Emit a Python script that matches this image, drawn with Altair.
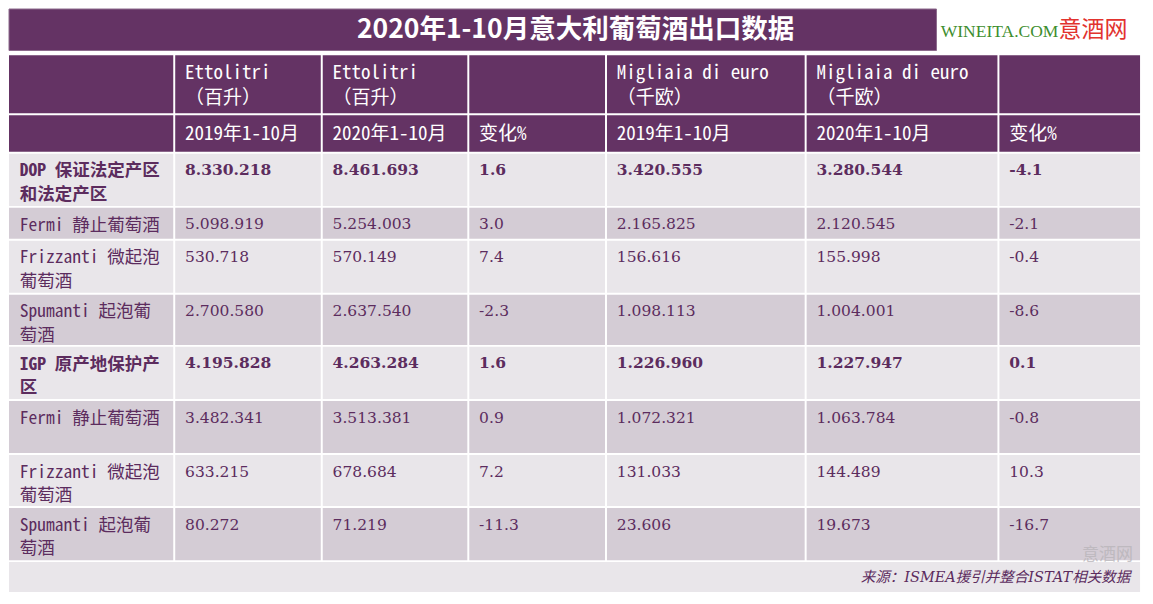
import altair as alt
import pandas as pd

# ---------------- data ----------------
title_text = "2020年1-10月意大利葡萄酒出口数据"
unit_headers = ["", "Ettolitri\n（百升）", "Ettolitri\n（百升）", "",
                "Migliaia di euro\n（千欧）", "Migliaia di euro\n（千欧）", ""]
period_headers = ["", "2019年1-10月", "2020年1-10月", "变化%",
                  "2019年1-10月", "2020年1-10月", "变化%"]
categories = ["DOP 保证法定产区\n和法定产区", "Fermi 静止葡萄酒", "Frizzanti 微起泡\n葡萄酒",
              "Spumanti 起泡葡\n萄酒", "IGP 原产地保护产\n区", "Fermi 静止葡萄酒",
              "Frizzanti 微起泡\n葡萄酒", "Spumanti 起泡葡\n萄酒"]
is_total = [True, False, False, False, True, False, False, False]
vol_2019 = [8330218, 5098919, 530718, 2700580, 4195828, 3482341, 633215, 80272]
vol_2020 = [8461693, 5254003, 570149, 2637540, 4263284, 3513381, 678684, 71219]
vol_chg = [1.6, 3.0, 7.4, -2.3, 1.6, 0.9, 7.2, -11.3]
val_2019 = [3420555, 2165825, 156616, 1098113, 1226960, 1072321, 131033, 23606]
val_2020 = [3280544, 2120545, 155998, 1004001, 1227947, 1063784, 144489, 19673]
val_chg = [-4.1, -2.1, -0.4, -8.6, 0.1, -0.8, 10.3, -16.7]
logo_latin = "WINEITA.COM"
logo_cjk = "意酒网"
source_note = "来源：ISMEA援引并整合ISTAT相关数据"

# ---------------- layout (reference pixel space) ----------------
W, H = 1153, 604
col_left = [0, 169, 319, 468, 608, 811, 1007]
table_right = 1150
row_top = [48, 110, 150, 206, 240, 296, 350, 406, 462, 517]
table_bottom = 571
GAP = 2
PURPLE = "#643364"
LIGHT = "#E9E6EA"
DARK = "#D4CCD5"
TXT = "#5C2C5E"


def dotted(v):
    return f"{v:,}".replace(",", ".")


col_right = [c - GAP for c in col_left[1:]] + [table_right]
row_bottom = [r - GAP for r in row_top[1:]] + [table_bottom]

rects = []
for ri in range(len(row_top)):
    if ri < 2:
        fill = PURPLE
    else:
        fill = LIGHT if (ri - 2) % 2 == 0 else DARK
    for ci in range(len(col_left)):
        rects.append(dict(x=col_left[ci], x2=col_right[ci], y=row_top[ri], y2=row_bottom[ri], fill=fill))
# footer band
rects.append(dict(x=0, x2=table_right, y=table_bottom + GAP, y2=H, fill=LIGHT))
rect_df = pd.DataFrame(rects)

title_df = pd.DataFrame([dict(x=0, x2=943, y=0, y2=43)])

xs = alt.Scale(domain=[0, W], nice=False, zero=False)
ys = alt.Scale(domain=[0, H], nice=False, zero=False, reverse=True)


def X(f="x"):
    return alt.X(f + ":Q", scale=xs, axis=None)


def Y(f="y"):
    return alt.Y(f + ":Q", scale=ys, axis=None)


cells = alt.Chart(rect_df).mark_rect(strokeWidth=0).encode(
    x=X(), x2="x2:Q", y=Y(), y2="y2:Q", color=alt.Color("fill:N", scale=None)
)
title_bar = alt.Chart(title_df).mark_rect(fill=PURPLE, stroke="#8C6A8C", strokeWidth=1).encode(
    x=X(), x2="x2:Q", y=Y(), y2="y2:Q"
)

# text tables
header_rows = []
for ci in range(len(col_left)):
    if unit_headers[ci]:
        header_rows.append(dict(x=col_left[ci] + 10, y=row_top[0] + 9, t=unit_headers[ci]))
    if period_headers[ci]:
        header_rows.append(dict(x=col_left[ci] + 10, y=row_top[1] + 10, t=period_headers[ci]))
hdr_df = pd.DataFrame(header_rows)

LABEL_FONT = "Noto Sans Mono CJK SC, Liberation Mono, Noto Sans CJK SC"
NUM_FONT = "DejaVu Serif"

lab_rows, num_rows = [], []
for i, cat in enumerate(categories):
    top = row_top[i + 2] + 9
    lab_rows.append(dict(x=11, y=top, t=cat, b=is_total[i]))
    vals = [dotted(vol_2019[i]), dotted(vol_2020[i]), f"{vol_chg[i]:.1f}",
            dotted(val_2019[i]), dotted(val_2020[i]), f"{val_chg[i]:.1f}"]
    for k, v in enumerate(vals):
        num_rows.append(dict(x=col_left[k + 1] + 10, y=top + 1, t=v, b=is_total[i]))
lab_df = pd.DataFrame(lab_rows)
num_df = pd.DataFrame(num_rows)

headers = alt.Chart(hdr_df).mark_text(
    align="left", baseline="top", font=LABEL_FONT, fontSize=19, color="white",
    lineBreak="\n", lineHeight=24.5
).encode(x=X(), y=Y(), text="t:N")

labels_n = alt.Chart(lab_df[~lab_df.b]).mark_text(
    align="left", baseline="top", font=LABEL_FONT, fontSize=17.5, color=TXT,
    lineBreak="\n", lineHeight=23.5
).encode(x=X(), y=Y(), text="t:N")
labels_b = alt.Chart(lab_df[lab_df.b]).mark_text(
    align="left", baseline="top", font=LABEL_FONT, fontSize=17.5, color=TXT, fontWeight="bold",
    lineBreak="\n", lineHeight=23.5
).encode(x=X(), y=Y(), text="t:N")

nums_n = alt.Chart(num_df[~num_df.b]).mark_text(
    align="left", baseline="top", font=NUM_FONT, fontSize=15.5, color=TXT
).encode(x=X(), y=Y(), text="t:N")
nums_b = alt.Chart(num_df[num_df.b]).mark_text(
    align="left", baseline="top", font=NUM_FONT, fontSize=15.5, color=TXT, fontWeight="bold"
).encode(x=X(), y=Y(), text="t:N")

title = alt.Chart(pd.DataFrame([dict(x=576, y=22, t=title_text)])).mark_text(
    align="center", baseline="middle", font="Noto Sans CJK SC", fontSize=26.5, fontWeight="bold",
    color="white"
).encode(x=X(), y=Y(), text="t:N")

logo1 = alt.Chart(pd.DataFrame([dict(x=1067, y=24, t=logo_latin)])).mark_text(
    align="right", baseline="middle", font="Liberation Serif", fontSize=17.5, color="#3E8E2E"
).encode(x=X(), y=Y(), text="t:N")
logo2 = alt.Chart(pd.DataFrame([dict(x=1067, y=22, t=logo_cjk)])).mark_text(
    align="left", baseline="middle", font="Noto Sans CJK SC", fontSize=23, color="#E2332E"
).encode(x=X(), y=Y(), text="t:N")

watermark = alt.Chart(pd.DataFrame([dict(x=1117, y=566, t=logo_cjk)])).mark_text(
    align="center", baseline="middle", font="Noto Sans CJK SC", fontSize=17, color="#B9B5BA",
    opacity=0.8
).encode(x=X(), y=Y(), text="t:N")

source = alt.Chart(pd.DataFrame([dict(x=1140, y=590, t=source_note)])).mark_text(
    align="right", baseline="middle", font="DejaVu Serif, Noto Sans CJK SC", fontSize=14.5,
    fontStyle="italic", color=TXT
).encode(x=X(), y=Y(), text="t:N")

chart = alt.layer(
    cells, title_bar, headers, labels_n, labels_b, nums_n, nums_b, title, logo1, logo2,
    watermark, source
).properties(
    width=1135, height=584, padding=0, background="white",
    autosize=alt.AutoSizeParams(type="fit", contains="padding")
).configure_view(stroke=None)

chart.save("out.html", embed_options={"renderer": "svg", "actions": False})
